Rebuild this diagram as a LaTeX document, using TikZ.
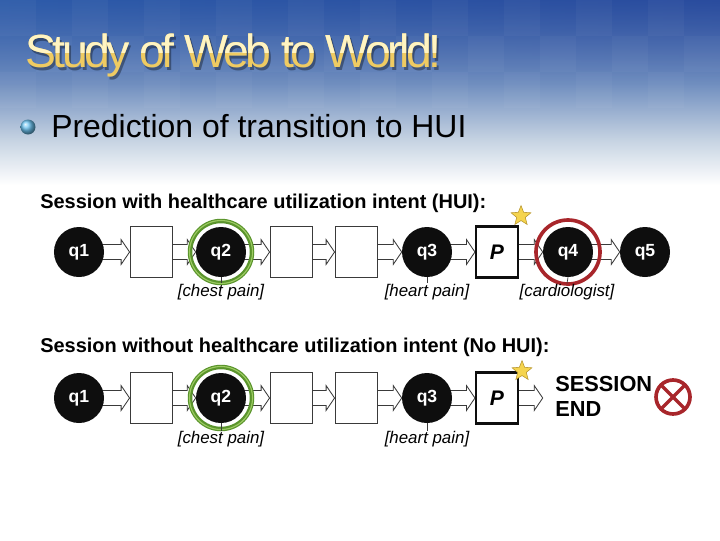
\documentclass[tikz,border=0pt]{standalone}
\usepackage{fontspec}
\setmainfont{Liberation Sans}
\newfontfamily\titlefont[LetterSpace=-7.5]{Liberation Sans}
\usepackage{tikz}
\usetikzlibrary{calc,shapes.geometric,fadings}
\definecolor{ink}{HTML}{0E0E0E}
\definecolor{edge}{HTML}{3A3A3A}
\definecolor{skytop}{HTML}{2A4C9E}
\definecolor{skyleft}{HTML}{3478C0}
\definecolor{skymid}{HTML}{7290C0}
\definecolor{skylow}{HTML}{C6D3E2}
\definecolor{gold}{HTML}{EFCB62}
\definecolor{paleglow}{HTML}{FFF4C2}
\definecolor{bulletblue}{HTML}{6CC4F2}
\definecolor{ringgreen}{HTML}{5A942C}
\definecolor{ringlight}{HTML}{9CCB62}
\definecolor{ringred}{HTML}{A8262B}
\definecolor{starfill}{HTML}{F5D44E}
\definecolor{staredge}{HTML}{B8962E}
\pgfdeclarelayer{back}
\pgfdeclarelayer{links}
\pgfsetlayers{back,links,main}
\tikzset{
  query/.style={circle, fill=ink, text=white, font=\bfseries\fontsize{12.5}{14}\selectfont, minimum size=1.25cm, inner sep=0pt},
  page/.style={draw=edge, fill=white, line width=0.6pt, minimum width=1.05cm, minimum height=1.275cm, inner sep=0pt},
  predict/.style={page, draw=ink, line width=1.5pt, font=\bfseries\itshape\fontsize{15}{17}\selectfont},
  blockarr/.style={draw=edge, fill=white, line width=0.6pt, line join=miter},
  topic/.style={font=\itshape\fontsize{12}{14}\selectfont, inner sep=0pt, anchor=base},
  head/.style={font=\bfseries\fontsize{14.2}{17}\selectfont, anchor=base west, inner sep=0pt},
  titletext/.style={anchor=base west, inner sep=0pt, font=\titlefont\fontsize{33}{36}\selectfont},
  okring/.style={draw=ringgreen, line width=3.2pt},
  badring/.style={draw=ringred, line width=2.6pt},
  flag/.style={star, star points=5, star point ratio=2.3, fill=starfill, draw=staredge, line width=0.4pt, minimum size=0.52cm, inner sep=0pt},
  tick/.style={draw=edge, line width=0.5pt},
}
% hollow block arrow between two nodes
\newcommand{\flowarrow}[2]{%
  \begin{pgfonlayer}{links}
  \draw[blockarr] let \p1=(#1.east), \p2=(#2.west) in
    (\x1-3pt,\y1+5.3pt) -- (\x2-6pt,\y1+5.3pt) -- (\x2-6pt,\y1+8.8pt) -- (\x2,\y1)
    -- (\x2-6pt,\y1-8.8pt) -- (\x2-6pt,\y1-5.3pt) -- (\x1-3pt,\y1-5.3pt) -- cycle;
  \end{pgfonlayer}}

\begin{document}
\begin{tikzpicture}[x=0.025cm, y=-0.025cm]
  \useasboundingbox (0,0) rectangle (720,540);

  % slide background
  \begin{pgfonlayer}{back}
    \fill[white] (0,0) rectangle (720,540);
    \shade[top color=skytop, bottom color=skymid] (0,0) rectangle (720,85);
    \shade[left color=skyleft, right color=skytop, opacity=0.35, path fading=south] (0,0) rectangle (720,85);
    \shade[top color=skymid, bottom color=skylow] (0,85) rectangle (720,140);
    \shade[top color=skylow, bottom color=white] (0,140) rectangle (720,185);
    \foreach \j/\s in {0/0,1/36,2/0}
      \foreach \i in {0,...,9}
        \fill[white, opacity=0.03] (\i*72+\s,\j*36) rectangle ++(36,36);
  \end{pgfonlayer}

  % title and bullet
  \node[titletext, text=black, opacity=0.35] at (27,70) {Study of Web to World!};
  \node[titletext, text=gold] (title) at (25,67) {Study of Web to World!};
  \begin{scope}
    \clip (0,0) rectangle (720,52);
    \node[titletext, text=paleglow] at (25,67) {Study of Web to World!};
  \end{scope}
  \shade[ball color=bulletblue] (28,127) circle (7.5);
  \node[anchor=base west, inner sep=0pt, font=\fontsize{22.7}{26}\selectfont] (point) at (51,137) {Prediction of transition to HUI};

  % session with HUI
  \node[head] (headA) at (40,208) {Session with healthcare utilization intent (HUI):};
  \node[query] (q1a) at (79,252) {q1};
  \node[page] (p1a) at (151,252) {};
  \node[query] (q2a) at (221,252) {q2};
  \node[page] (p2a) at (291,252) {};
  \node[page] (p3a) at (356,252) {};
  \node[query] (q3a) at (427,252) {q3};
  \node[predict] (Pa) at (497,252) {P};
  \node[query] (q4a) at (568,252) {q4};
  \node[query] (q5a) at (645,252) {q5};
  \flowarrow{q1a}{p1a}
  \flowarrow{p1a}{q2a}
  \flowarrow{q2a}{p2a}
  \flowarrow{p2a}{p3a}
  \flowarrow{p3a}{q3a}
  \flowarrow{q3a}{Pa}
  \flowarrow{Pa}{q4a}
  \flowarrow{q4a}{q5a}
  \draw[okring] (q2a) circle (31);
  \draw[ringlight, line width=0.8pt] (q2a) circle (31.5);
  \draw[badring] (q4a) circle (32);
  \node[flag] (starA) at (521,216) {};
  \node[topic] (cpA) at (221,296) {[chest pain]};
  \node[topic] (hpA) at (427,296) {[heart pain]};
  \node[topic] (cdA) at (567,296) {[cardiologist]};
  \draw[tick] (q2a.south) -- (cpA.north);
  \draw[tick] (q3a.south) -- (hpA.north);
  \draw[tick] (q4a.south) -- (cdA.north);

  % session without HUI
  \node[head] (headB) at (40,352) {Session without healthcare utilization intent (No HUI):};
  \node[query] (q1b) at (79,398) {q1};
  \node[page] (p1b) at (151,398) {};
  \node[query] (q2b) at (221,398) {q2};
  \node[page] (p2b) at (291,398) {};
  \node[page] (p3b) at (356,398) {};
  \node[query] (q3b) at (427,398) {q3};
  \node[predict] (Pb) at (497,398) {P};
  \node[inner sep=0pt, minimum size=0pt] (endtip) at (543,398) {};
  \flowarrow{q1b}{p1b}
  \flowarrow{p1b}{q2b}
  \flowarrow{q2b}{p2b}
  \flowarrow{p2b}{p3b}
  \flowarrow{p3b}{q3b}
  \flowarrow{q3b}{Pb}
  \flowarrow{Pb}{endtip}
  \draw[okring] (q2b) circle (31);
  \draw[ringlight, line width=0.8pt] (q2b) circle (31.5);
  \node[flag] (starB) at (522,371) {};
  \node[topic] (cpB) at (221,443) {[chest pain]};
  \node[topic] (hpB) at (427,443) {[heart pain]};
  \draw[tick] (q2b.south) -- (cpB.north);
  \draw[tick] (q3b.south) -- (hpB.north);
  \node[anchor=west, inner sep=0pt, align=left,
        font=\bfseries\fontsize{15.5}{17.8}\selectfont] (endtext) at (555,396) {SESSION\\END};

  % stop mark
  \coordinate (xc) at (673,397);
  \draw[badring, fill=white] (xc) circle (17);
  \draw[ringred, line width=2.4pt] ($(xc)+(-11,-11)$) -- ($(xc)+(11,11)$);
  \draw[ringred, line width=2.4pt] ($(xc)+(-11,11)$) -- ($(xc)+(11,-11)$);
\end{tikzpicture}
\end{document}
